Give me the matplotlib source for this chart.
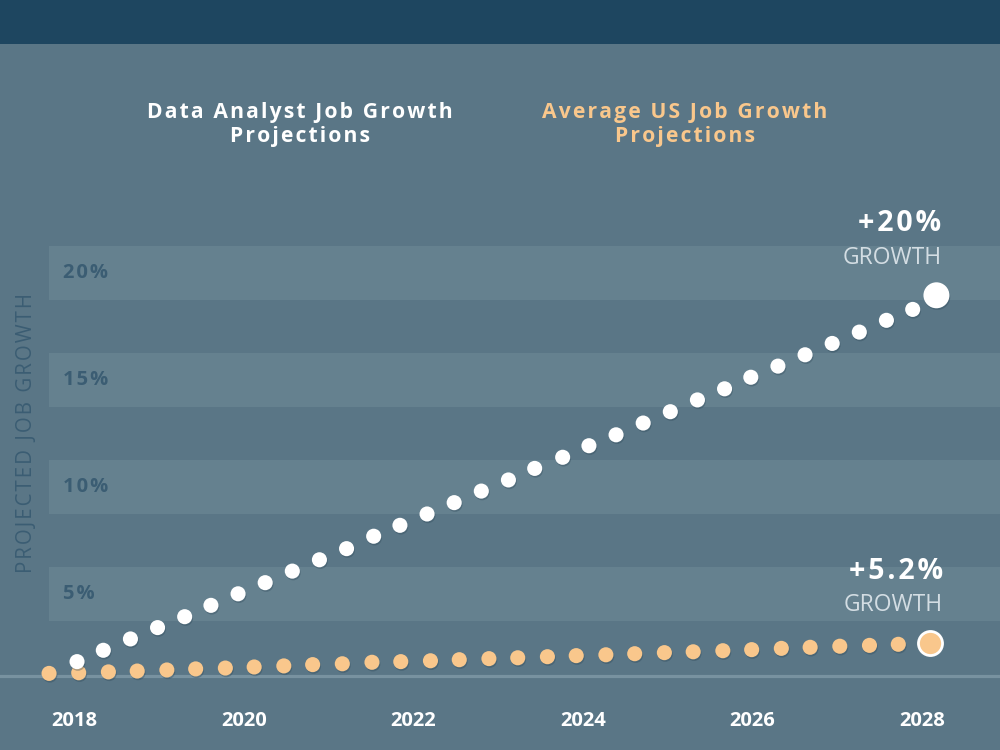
import matplotlib
matplotlib.use("Agg")
import matplotlib.pyplot as plt
from matplotlib import patheffects as pe
from matplotlib.patches import Rectangle

# ---------------- data ----------------
years = [2018, 2020, 2022, 2024, 2026, 2028]
y_ticks = [5, 10, 15, 20]
y_tick_labels = ["5%", "10%", "15%", "20%"]

analyst_x = [2018.03, 2018.34, 2018.66, 2018.98, 2019.30, 2019.61, 2019.93, 2020.25,
             2020.57, 2020.89, 2021.21, 2021.53, 2021.84, 2022.16, 2022.48, 2022.80,
             2023.12, 2023.43, 2023.76, 2024.07, 2024.39, 2024.71, 2025.03, 2025.35,
             2025.67, 2025.98, 2026.30, 2026.62, 2026.94, 2027.26, 2027.58, 2027.89,
             2028.17]
analyst_y = [1.84, 2.37, 2.90, 3.43, 3.94, 4.47, 5.01, 5.53, 6.07, 6.60, 7.12, 7.70,
             8.21, 8.74, 9.27, 9.81, 10.33, 10.87, 11.39, 11.93, 12.44, 12.99, 13.52,
             14.07, 14.59, 15.13, 15.65, 16.18, 16.71, 17.24, 17.79, 18.30, 18.96]

us_x = [2017.70, 2018.05, 2018.40, 2018.74, 2019.09, 2019.43, 2019.78, 2020.12,
        2020.47, 2020.81, 2021.16, 2021.51, 2021.85, 2022.20, 2022.54, 2022.89,
        2023.23, 2023.58, 2023.92, 2024.27, 2024.61, 2024.96, 2025.30, 2025.65,
        2025.99, 2026.34, 2026.68, 2027.03, 2027.38, 2027.72, 2028.09]
us_y = [1.29, 1.32, 1.36, 1.40, 1.45, 1.50, 1.54, 1.59, 1.64, 1.70, 1.74, 1.81, 1.84,
        1.88, 1.93, 1.98, 2.02, 2.07, 2.12, 2.16, 2.21, 2.26, 2.30, 2.35, 2.40, 2.46,
        2.51, 2.56, 2.60, 2.65, 2.70]

baseline_value = 1.17
analyst_label = "Data Analyst Job Growth\nProjections"
us_label = "Average US Job Growth\nProjections"
analyst_note = "+20%"
us_note = "+5.2%"
note_sub = "GROWTH"
y_title = "PROJECTED JOB GROWTH"

# ---------------- style ----------------
BG = "#5a7686"
BAND = "#65818f"
HEADER = "#1e4660"
LABEL_DARK = "#3b5d73"
WHITE = "#ffffff"
ORANGE = "#f9c78c"
SUB = "#d3dde3"
FONT = ["Open Sans", "DejaVu Sans"]
HS = "\u200a"  # hair space used as letter spacing


def spaced(s):
    return "\n".join(HS.join(line) for line in s.split("\n"))


fig = plt.figure(figsize=(10, 7.5), dpi=100)
fig.patch.set_facecolor(BG)
ax = fig.add_axes([0, 0, 1, 1])
ax.set_facecolor(BG)
ax.set_axis_off()
ax.set_xlim(2017.121, 2028.920)
ax.set_ylim(-2.29, 32.76)

# header band
fig.patches.append(Rectangle((0, 1 - 44 / 750), 1, 44 / 750, transform=fig.transFigure,
                             facecolor=HEADER, edgecolor="none", zorder=0))

# horizontal bands at ticks
for t in y_ticks:
    ax.axhspan(t - 1.26, t + 1.26, xmin=0.049, xmax=1.0, facecolor=BAND,
               edgecolor="none", zorder=0)

# tick labels
ytr = ax.get_yaxis_transform()
for t, lab in zip(y_ticks, y_tick_labels):
    ax.text(0.063, t, spaced(lab), transform=ytr, ha="left", va="center", fontsize=14.5,
            fontweight="bold", color=LABEL_DARK, family=FONT)

# baseline
ax.axhline(baseline_value, color="#7892a0", lw=2.3, zorder=1)

# year labels
xtr = ax.get_xaxis_transform()
for yr in years:
    ax.text(yr, 1 - 721 / 750, str(yr), transform=xtr, ha="center", va="center",
            fontsize=14.5, fontweight="bold", color=WHITE, family=FONT)

# y title
ax.text(0.027, 1 - 433 / 750, spaced(y_title), transform=ax.transAxes,
        rotation=90, ha="center", va="center", fontsize=14.8, color=LABEL_DARK,
        family=FONT)

shadow = [pe.SimplePatchShadow(offset=(0.6, -1.2), shadow_rgbFace="#2c4656", alpha=0.35),
          pe.Normal()]

# series
ax.scatter(us_x[:-1], us_y[:-1], s=118, color=ORANGE, edgecolors="none", zorder=3,
           path_effects=shadow)
ax.scatter(analyst_x[:-1], analyst_y[:-1], s=118, color=WHITE, edgecolors="none",
           zorder=4, path_effects=shadow)
ax.scatter(us_x[-1:], us_y[-1:], s=300, color=ORANGE, edgecolors=WHITE, linewidths=2,
           zorder=5)
ax.scatter(analyst_x[-1:], analyst_y[-1:], s=350, color=WHITE, edgecolors="none",
           zorder=5, path_effects=shadow)

# annotations
ax.annotate(spaced(analyst_note), (analyst_x[-1], analyst_y[-1]), xytext=(5, 72),
            textcoords="offset pixels", ha="right", va="center", fontsize=20.5,
            fontweight="bold", color=WHITE, family=FONT)
ax.annotate(note_sub, (analyst_x[-1], analyst_y[-1]), xytext=(5, 37),
            textcoords="offset pixels", ha="right", va="center", fontsize=16.5,
            color=SUB, family=FONT)
ax.annotate(spaced(us_note), (us_x[-1], us_y[-1]), xytext=(13, 72),
            textcoords="offset pixels", ha="right", va="center", fontsize=20.5,
            fontweight="bold", color=WHITE, family=FONT)
ax.annotate(note_sub, (us_x[-1], us_y[-1]), xytext=(13, 38),
            textcoords="offset pixels", ha="right", va="center", fontsize=16.5,
            color=SUB, family=FONT)

# legend-like labels
ax.text(0.300, 1 - 124.5 / 750, spaced(analyst_label), transform=ax.transAxes,
        ha="center", va="center", multialignment="center", fontsize=15.2,
        fontweight="bold", color=WHITE, family=FONT, linespacing=1.2)
ax.text(0.685, 1 - 124.5 / 750, spaced(us_label), transform=ax.transAxes,
        ha="center", va="center", multialignment="center", fontsize=15.2,
        fontweight="bold", color=ORANGE, family=FONT, linespacing=1.2)

fig.savefig("out.png", dpi=100, facecolor=BG)
